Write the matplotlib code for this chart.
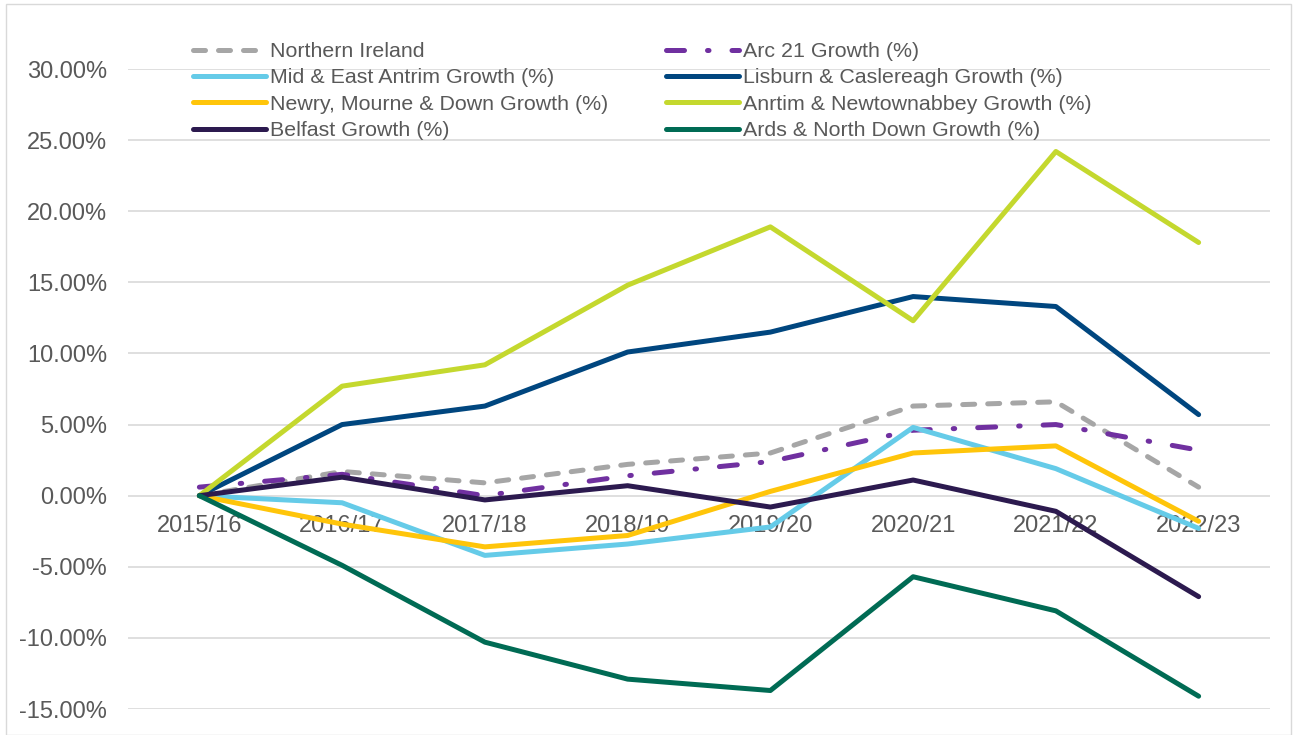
import matplotlib
matplotlib.use("Agg")
import matplotlib.pyplot as plt
from matplotlib.patches import Rectangle
from matplotlib.ticker import FuncFormatter

plt.rcParams['font.family'] = ['Liberation Sans', 'DejaVu Sans']

years = ["2015/16", "2016/17", "2017/18", "2018/19", "2019/20", "2020/21", "2021/22", "2022/23"]

northern_ireland = [0.0, 1.7, 0.9, 2.2, 3.0, 6.3, 6.6, 0.6]
arc21 = [0.6, 1.5, 0.0, 1.4, 2.4, 4.6, 5.0, 3.2]
mid_east_antrim = [0.0, -0.5, -4.2, -3.4, -2.2, 4.8, 1.9, -2.3]
lisburn = [0.0, 5.0, 6.3, 10.1, 11.5, 14.0, 13.3, 5.7]
newry = [0.0, -2.0, -3.6, -2.8, 0.3, 3.0, 3.5, -1.8]
antrim = [0.0, 7.7, 9.2, 14.8, 18.9, 12.3, 24.2, 17.8]
belfast = [0.0, 1.3, -0.3, 0.7, -0.8, 1.1, -1.1, -7.1]
ards = [0.0, -4.9, -10.3, -12.9, -13.7, -5.7, -8.1, -14.1]

yticks = [-15, -10, -5, 0, 5, 10, 15, 20, 25, 30]

fig = plt.figure(figsize=(12.93, 7.35), dpi=100)
ax = fig.add_axes([128/1293, 1-709/735, (1270-128)/1293, (709-69)/735])

x = list(range(len(years)))
lw = 3.6
series = [
    ("Northern Ireland", northern_ireland, "#A6A6A6", (0, (2.4, 2.6))),
    ("Arc 21 Growth (%)", arc21, "#7030A0", (0, (3.6, 4.6, 0.3, 4.6))),
    ("Mid & East Antrim Growth (%)", mid_east_antrim, "#65CBE8", "-"),
    ("Lisburn & Caslereagh Growth (%)", lisburn, "#00467F", "-"),
    ("Newry, Mourne & Down Growth (%)", newry, "#FFC50A", "-"),
    ("Anrtim & Newtownabbey Growth (%)", antrim, "#C4D82E", "-"),
    ("Belfast Growth (%)", belfast, "#2C1A4F", "-"),
    ("Ards & North Down Growth (%)", ards, "#006B54", "-"),
]
handles = {}
for name, vals, col, ls in series:
    h, = ax.plot(x, vals, color=col, lw=lw, linestyle=ls, solid_capstyle='round',
                 dash_capstyle='round', label=name, solid_joinstyle='round')
    handles[name] = h

ax.set_xlim(-0.5, 7.5)
ax.set_ylim(-15, 30)
ax.set_yticks(yticks)
ax.yaxis.set_major_formatter(FuncFormatter(lambda v, p: f"{v:.2f}%"))
ax.grid(axis='y', color='#D9D9D9', lw=1.2)
ax.set_axisbelow(True)
for s in ax.spines.values():
    s.set_visible(False)
ax.spines['bottom'].set_position(('data', 0))
ax.set_xticks(x)
ax.set_xticklabels(years)
ax.tick_params(axis='x', length=0, pad=14, labelsize=17, labelcolor='#595959')
ax.tick_params(axis='y', length=0, pad=15, labelsize=17, labelcolor='#595959')

order = ["Northern Ireland", "Mid & East Antrim Growth (%)", "Newry, Mourne & Down Growth (%)",
         "Belfast Growth (%)", "Arc 21 Growth (%)", "Lisburn & Caslereagh Growth (%)",
         "Anrtim & Newtownabbey Growth (%)", "Ards & North Down Growth (%)"]
leg = fig.legend([handles[n] for n in order], order, ncol=2, loc='upper left',
                 bbox_to_anchor=(193/1293, 1-42/735), frameon=False, fontsize=15.4,
                 handlelength=3.4, handletextpad=0.2, labelspacing=0.35, columnspacing=2.7,
                 borderaxespad=0, borderpad=0)
for t in leg.get_texts():
    t.set_color('#595959')

fig.patches.append(Rectangle((6/1293, 0), (1291-6)/1293, 1-4/735, transform=fig.transFigure,
                             fill=False, edgecolor='#D9D9D9', lw=1))

fig.savefig("out.png", dpi=100)
